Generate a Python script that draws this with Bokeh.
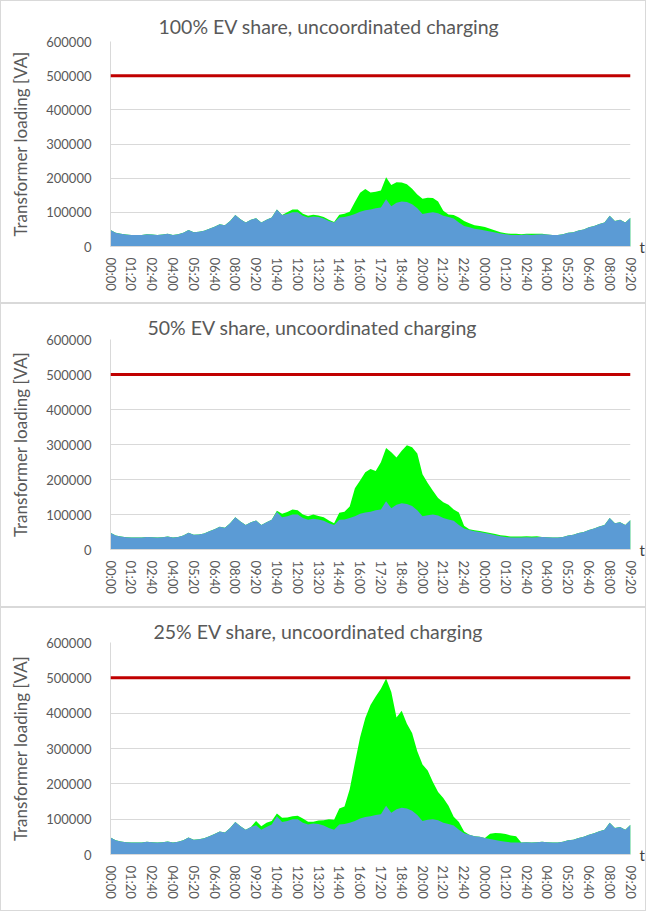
from bokeh.plotting import figure
from bokeh.models import Range1d, FixedTicker, Span, Title, LinearAxis
from bokeh.layouts import column
from bokeh.embed import file_html
from bokeh.resources import INLINE

# time axis: minutes since 00:00 of day 1, sampled every 20 minutes
T_MIN = list(range(0, 2001, 20))
TICK_MIN = list(range(0, 2001, 80))
TICK_LABELS = ["00:00", "01:20", "02:40", "04:00", "05:20", "06:40", "08:00", "09:20",
               "10:40", "12:00", "13:20", "14:40", "16:00", "17:20", "18:40", "20:00",
               "21:20", "22:40", "00:00", "01:20", "02:40", "04:00", "05:20", "06:40",
               "08:00", "09:20"]
Y_TICKS = [0, 100000, 200000, 300000, 400000, 500000, 600000]
LIMIT_VA = 500000

# base load (kVA) without EVs
BASE_K = [48, 40, 37, 35, 34, 34, 34, 36, 35, 34,
          35, 37, 34, 36, 40, 48, 42, 43, 46, 52,
          58, 65, 62, 75, 92, 80, 70, 78, 83, 70,
          78, 85, 108, 92, 95, 100, 100, 90, 85, 88,
          86, 82, 75, 70, 85, 86, 90, 95, 102, 106,
          108, 112, 114, 138, 118, 128, 132, 130, 124, 112,
          95, 98, 100, 97, 90, 86, 82, 70, 60, 56,
          52, 50, 47, 44, 41, 38, 36, 34, 34, 34,
          35, 34, 35, 36, 35, 34, 34, 36, 40, 42,
          47, 50, 56, 60, 66, 70, 90, 75, 78, 70,
          84]

# additional EV charging load (kVA) per scenario
EV_100_K = [0] * 34 + [
          5, 8, 8, 6, 5, 5, 5, 4, 3, 2,
          8, 10, 12, 35, 55, 62, 50, 48, 50, 65,
          62, 60, 55, 52, 45, 40, 45, 45, 42, 35,
          15, 8, 10, 15, 15, 12, 10, 10, 10, 8,
          6, 4, 3, 3, 3, 2, 2, 3, 2, 1] + [0] * 17

EV_50_K = [0] * 32 + [
          3, 10, 12, 14, 12, 10, 10, 12, 10, 10,
          8, 5, 20, 22, 33, 80, 95, 115, 122, 112,
          135, 152, 160, 135, 150, 168, 168, 162, 120, 92,
          68, 50, 45, 42, 32, 36, 8, 2, 3, 3,
          3, 3, 3, 3, 3, 3, 3, 3, 3, 3,
          3] + [0] * 18

EV_25_K = [0] * 28 + [
          12, 10, 12, 10, 8, 12, 10, 8, 10, 12,
          8, 5, 10, 15, 25, 28, 45, 50, 95, 165,
          230, 280, 315, 335, 355, 360, 342, 260, 275, 240,
          220, 180, 160, 140, 105, 80, 70, 52, 25, 22,
          5, 0, 0, 0, 0, 15, 20, 22, 22, 20,
          18] + [0] * 22

TITLES = ["100% EV share, uncoordinated charging",
          "50% EV share, uncoordinated charging",
          "25% EV share, uncoordinated charging"]
EVS = [EV_100_K, EV_50_K, EV_25_K]

# per-panel layout: (height, border top, border bottom, title offset, title standoff)
LAYOUT = [(303, 40, 58, 48, 8),
          (304, 35, 59, 37, 2),
          (304, 34, 58, 43, 0)]

FONT = "Lato"
GREY = "#595959"


def make_panel(title, ev_k, lay):
    h, btop, bbot, toff, tstand = lay
    base = [b * 1000 for b in BASE_K]
    total = [(b + e) * 1000 for b, e in zip(BASE_K, ev_k)]
    p = figure(width=646, height=h, x_range=Range1d(0, 2000), y_range=Range1d(0, 600000),
               output_backend="svg", toolbar_location=None,
               min_border_left=109, min_border_right=4, min_border_top=btop,
               min_border_bottom=bbot)
    p.title = Title(text=title, align="left", offset=toff, text_font=FONT,
                    text_font_size="19.5px", text_font_style="normal", text_color=GREY,
                    standoff=tstand)
    p.outline_line_color = None
    p.styles = {"border": "1px solid #d9d9d9"}

    p.varea(x=T_MIN, y1=0, y2=total, fill_color="#00FF00")
    p.varea(x=T_MIN, y1=0, y2=base, fill_color="#5B9BD5")
    p.add_layout(Span(location=LIMIT_VA, dimension="width", line_color="#C00000",
                      line_width=3))

    p.xgrid.grid_line_color = None
    p.ygrid.grid_line_color = "#D9D9D9"
    p.ygrid.ticker = FixedTicker(ticks=Y_TICKS)

    p.xaxis.ticker = FixedTicker(ticks=TICK_MIN)
    p.xaxis.major_label_overrides = {t: lab for t, lab in zip(TICK_MIN, TICK_LABELS)}
    p.xaxis.major_label_orientation = "vertical"
    p.xaxis.major_label_standoff = 5
    p.xaxis.axis_line_color = "#D9D9D9"

    p.yaxis.ticker = FixedTicker(ticks=Y_TICKS)
    p.yaxis.formatter.use_scientific = False
    p.yaxis.axis_label = "Transformer loading [VA]"
    p.yaxis.axis_label_standoff = 12
    p.yaxis.axis_label_text_font_style = "normal"
    p.yaxis.axis_label_text_font_size = "17px"
    p.yaxis.axis_label_text_font = FONT
    p.yaxis.axis_label_text_color = GREY
    p.yaxis.axis_line_color = "#D9D9D9"
    p.yaxis.major_label_standoff = 13

    # the "t" marker at the right end of the time axis
    t_axis = LinearAxis(ticker=FixedTicker(ticks=[0]), major_label_overrides={0: "t"})
    t_axis.axis_line_color = None
    t_axis.major_label_standoff = 3
    p.add_layout(t_axis, "right")

    for ax in (p.xaxis[0], p.yaxis[0], t_axis):
        ax.major_tick_line_color = None
        ax.minor_tick_line_color = None
        ax.major_label_text_font = FONT
        ax.major_label_text_font_size = "13px"
        ax.major_label_text_color = GREY
    t_axis.major_label_text_font_size = "15px"
    t_axis.major_label_text_color = "#404040"
    t_axis.major_label_text_baseline = "top"
    return p


panels = [make_panel(t, e, l) for t, e, l in zip(TITLES, EVS, LAYOUT)]
layout = column(*panels, spacing=0)

open("out.html", "w").write(file_html(layout, INLINE))
